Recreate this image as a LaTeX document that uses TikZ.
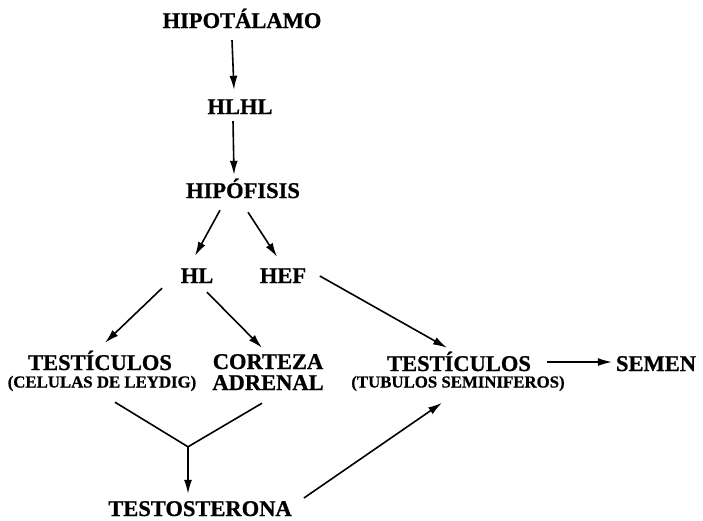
\documentclass[tikz,border=0pt]{standalone}
\usepackage{fontspec}
\setmainfont{Liberation Serif}[BoldFeatures={FakeBold=0.8}]
\usepackage{tikz}
\usetikzlibrary{positioning, calc, arrows.meta}
\tikzstyle{Arrow} = [
    line width = 1.6pt,
    -{Latex[length=14pt, width=8pt]}
]
\tikzstyle{Line} = [
    line width = 1.6pt
]

\begin{document}
\begin{tikzpicture}[
x = 1pt, y = -1pt,
organ/.style = {
    anchor = base,
    inner sep = 0pt,
    text height = 15pt,
    text depth = 0pt,
    font = \fontsize{22.5}{22.5}\selectfont\bfseries
    },
part/.style = {
    anchor = base,
    inner sep = 0pt,
    text height = 11pt,
    text depth = 0pt,
    font = \fontsize{16.8}{16.8}\selectfont\bfseries
    }
]
\useasboundingbox (0,0) rectangle (703,520);

\node [organ] (hipot) at (242,28) {HIPOTÁLAMO};
\node [organ] (hlhl) at (240,114) {HLHL};
\node [organ] (hipof) at (243,198) {HIPÓFISIS};
\node [organ] (hl) at (197,283) {HL};
\node [organ] (hef) at (283,283) {HEF};
\node [organ] (testL) at (100,370) {TESTÍCULOS};
\node [part] (testLsub) at (102,387.5) {(CELULAS DE LEYDIG)};
\node [organ] (corteza) at (268,369) {CORTEZA};
\node [organ] (adrenal) at (268,390) {ADRENAL};
\node [organ] (testR) at (459,371) {TESTÍCULOS};
\node [part] (testRsub) at (458,387.5) {(TUBULOS SEMINIFEROS)};
\node [organ] (semen) at (656,371) {SEMEN};
\node [organ] (testo) at (200,516) {TESTOSTERONA};

\coordinate (join) at ($(testo.north)+(-12,-54)$);

\draw[Arrow] ($(hipot.south)+(-10,12)$) -- ($(hlhl.north)+(-6,-9)$);
\draw[Arrow] ($(hlhl.south)+(-7,7)$) -- ($(hipof.north)+(-9,-8)$);

\draw[Arrow] ($(hipof.south)+(-23,12)$) -- ($(hl.north)+(-2,-12)$);
\draw[Arrow] ($(hipof.south)+(5,14)$) -- ($(hef.north)+(-6,-11)$);

\draw[Arrow] ($(hl.south)+(-35,5)$) -- ($(testL.north)+(5,-12)$);
\draw[Arrow] ($(hl.south)+(10,9)$) -- ($(corteza.north)+(-6,-6)$);
\draw[Arrow] ($(hef.east)+(13.5,0.5)$) -- ($(testR.north)+(-12,-8)$);

\draw[Arrow, line width=1.2pt] ($(testR.east)+(16,-1.5)$) -- ($(semen.west)+(-4,-1.5)$);

\draw[Line] ($(testLsub.south)+(13,14.5)$) -- (join);
\draw[Line] ($(adrenal.south)+(-6,13)$) -- (join);
\draw[Arrow] (join) -- ($(testo.north)+(-12,-7)$);

\draw[Arrow] ($(testo.east)+(12,-10.5)$) -- ($(testRsub.north)+(-16,26.5)$);

\end{tikzpicture}
\end{document}
